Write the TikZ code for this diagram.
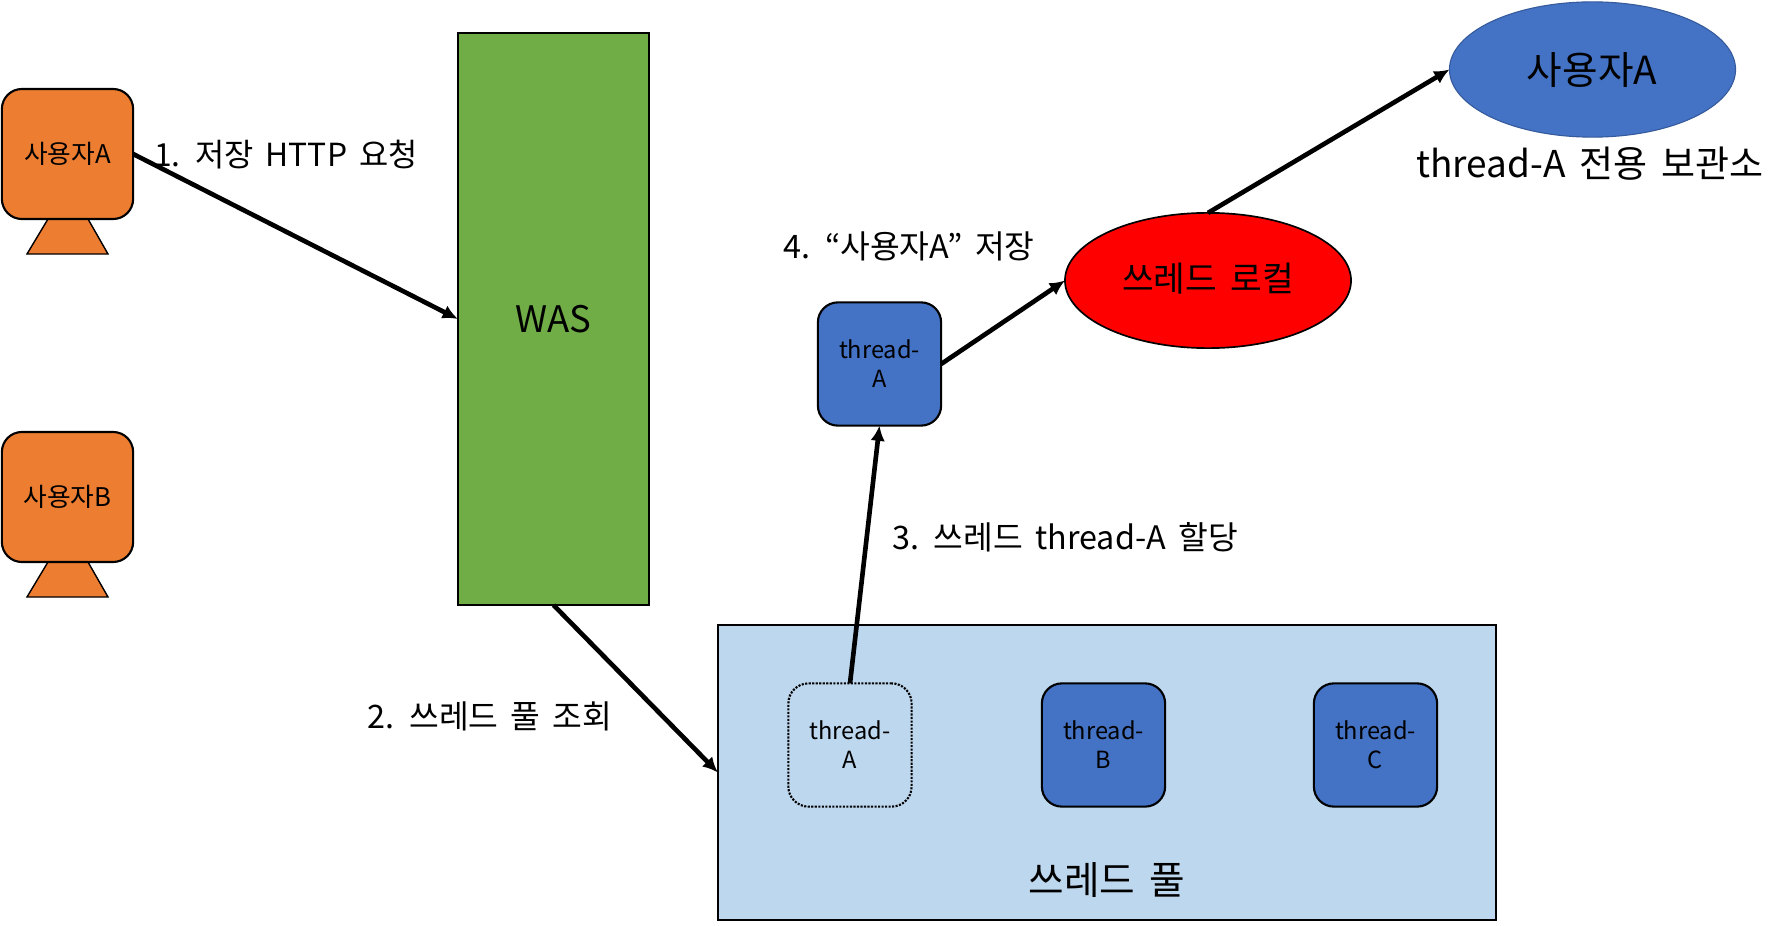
\documentclass[tikz,border=0pt]{standalone}
\usepackage{fontspec}
\setmainfont{Noto Sans CJK KR}[WordSpace=1.7]
\usepackage{xcolor}
\usetikzlibrary{arrows.meta,shapes.geometric}
\definecolor{userorange}{HTML}{ED7D31}
\definecolor{wasgreen}{HTML}{70AD47}
\definecolor{threadblue}{HTML}{4472C4}
\definecolor{poolblue}{HTML}{BDD7EE}
\newcommand{\smalltxt}{\fontsize{16.8}{20.6}\selectfont}
\newcommand{\usertxt}{\fontsize{18.3}{22}\selectfont}
\newcommand{\midtxt}{\fontsize{23}{27}\selectfont}
\newcommand{\wastxt}{\fontsize{26}{31}\selectfont}
\newcommand{\bigtxt}{\fontsize{27.5}{33}\selectfont}
\tikzset{
  every node/.style={outer sep=0pt},
  userbox/.style={draw,line width=1.5pt,fill=userorange,rounded corners=0.5cm,inner sep=0pt,
    minimum width=3.28cm,minimum height=3.25cm,font=\usertxt},
  threadbox/.style={draw,line width=1.5pt,fill=threadblue,rounded corners=0.5cm,inner sep=0pt,
    minimum width=3.08cm,minimum height=3.08cm,align=center,font=\smalltxt},
  store/.style={ellipse,inner sep=0pt,minimum width=7.15cm,minimum height=3.38cm},
  step label/.style={font=\midtxt},
  link/.style={->,line width=3.3pt}
}
\begin{document}
\begin{tikzpicture}[>={Latex[length=0.38cm,width=0.36cm]},x=0.025cm,y=-0.025cm]
    \useasboundingbox (0,0) rectangle (1788,926);
    % users
    \foreach \y/\who in {154/A,497/B}{
      \draw[line width=1pt,fill=userorange] (48,\y+65) -- (27,\y+100) -- (108,\y+100) -- (88,\y+65) -- cycle;
      \node[userbox] (user\who) at (67.5,\y) {사용자\who};
    }
    \node[draw,line width=1.5pt,fill=wasgreen,inner sep=0pt,minimum width=4.78cm,minimum height=14.3cm,font=\wastxt] (was) at (553.5,319) {WAS};
    % thread pool
    \node[draw,line width=1.2pt,fill=poolblue,inner sep=0pt,minimum width=19.45cm,minimum height=7.38cm] (pool) at (1107,772.5) {};
    \node[font=\bigtxt] (poolname) at (1107,880) {쓰레드 풀};
    \node[threadbox,fill=none,densely dotted] (poolA) at (850,745) {thread-\\A};
    \node[threadbox] (poolB) at (1103.5,745) {thread-\\B};
    \node[threadbox] (poolC) at (1375.5,745) {thread-\\C};
    \node[threadbox] (threadA) at (879.5,364) {thread-\\A};
    % stores
    \node[store,draw,line width=1.2pt,fill=red] (local) at (1208,280.5) {};
    \node[font=\fontsize{24.5}{29}\selectfont] (localname) at (1208,279) {쓰레드 로컬};
    \node[store,draw=threadblue!80!black,line width=0.8pt,fill=threadblue] (storeA) at (1592.5,69.5) {};
    \node[font=\bigtxt] (storeAname) at (1592,70.5) {사용자A};
    \node[font=\fontsize{26.3}{31}\selectfont] (storename) at (1590,164) {thread-A 전용 보관소};
    % steps
    \draw[link] (userA.east) -- (was.west);
    \draw[link] (was.south) -- (pool.west);
    \draw[link] (poolA.north) -- (threadA.south);
    \draw[link] (threadA.east) -- (local.west);
    \draw[link] (local.north) -- (storeA.west);
    \node[font=\fontsize{22.6}{27}\selectfont] (stepa) at (286,155) {1. 저장 HTTP 요청};
    \node[step label] (stepb) at (490,716) {2. 쓰레드 풀 조회};
    \node[step label] (stepc) at (1065,537) {3. 쓰레드 thread-A 할당};
    \node[step label] (stepd) at (909,246) {4. “사용자A” 저장};
\end{tikzpicture}
\end{document}
